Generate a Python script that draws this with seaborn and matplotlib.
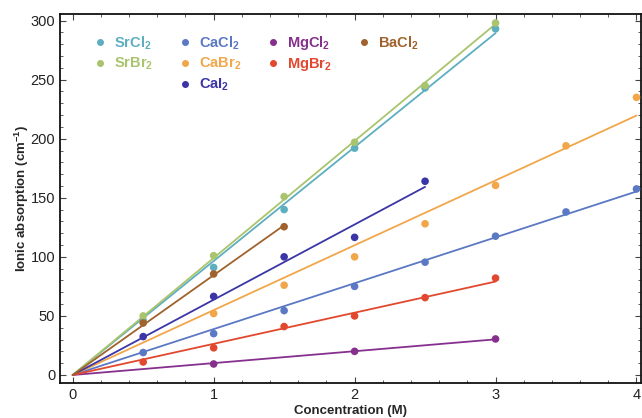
import numpy as np
import pandas as pd
import matplotlib.pyplot as plt
import seaborn as sns
from matplotlib.lines import Line2D
from matplotlib.ticker import MultipleLocator

# concentration grids (M)
conc_to_3 = [0.5, 1.0, 1.5, 2.0, 2.5, 3.0]
conc_to_4 = [0.5, 1.0, 1.5, 2.0, 2.5, 3.0, 3.5, 4.0]
conc_cabr2 = [1.0, 1.5, 2.0, 2.5, 3.0, 3.5, 4.0]
conc_cai2 = [0.5, 1.0, 1.5, 2.0, 2.5]
conc_bacl2 = [0.5, 1.0, 1.5]
conc_mgcl2 = [1.0, 2.0, 3.0]

# ionic absorption (cm^-1)
srcl2 = [46, 91, 140, 192, 243, 293]
srbr2 = [50, 101, 151, 197, 245, 298]
cacl2 = [19, 35, 54.5, 75, 95.5, 117.5, 138, 157.5]
cabr2 = [52, 76, 100, 128, 160.5, 194, 235]
cai2 = [32.5, 66.5, 100, 116.5, 164]
mgcl2 = [9.3, 20, 30.5]
mgbr2 = [11, 23, 41, 50, 65.5, 82]
bacl2 = [44, 85.5, 125.5]

series = [
    ('SrCl2', 'SrCl$_2$', conc_to_3, srcl2, '#5DAFC0'),
    ('SrBr2', 'SrBr$_2$', conc_to_3, srbr2, '#A9C46C'),
    ('CaCl2', 'CaCl$_2$', conc_to_4, cacl2, '#5B78C4'),
    ('CaBr2', 'CaBr$_2$', conc_cabr2, cabr2, '#F2A64A'),
    ('CaI2', 'CaI$_2$', conc_cai2, cai2, '#3B35A6'),
    ('MgCl2', 'MgCl$_2$', conc_mgcl2, mgcl2, '#86308E'),
    ('MgBr2', 'MgBr$_2$', conc_to_3, mgbr2, '#E2482E'),
    ('BaCl2', 'BaCl$_2$', conc_bacl2, bacl2, '#A0622C'),
]

rows = []
fit_rows = []
for name, lab, xs, ys, col in series:
    for x, y in zip(xs, ys):
        rows.append({'salt': name, 'conc': x, 'abs': y})
    # least-squares line through the origin
    xa, ya = np.array(xs), np.array(ys)
    slope = (xa * ya).sum() / (xa * xa).sum()
    for x in (0.0, xa.max()):
        fit_rows.append({'salt': name, 'conc': x, 'abs': slope * x})
df = pd.DataFrame(rows)
fits = pd.DataFrame(fit_rows)
palette = {name: col for name, lab, xs, ys, col in series}
order = [s[0] for s in series]

sns.set_style('ticks')
plt.rcParams['font.family'] = ['Liberation Sans', 'DejaVu Sans']
plt.rcParams['mathtext.fontset'] = 'custom'
plt.rcParams['mathtext.rm'] = 'Liberation Sans:bold'
plt.rcParams['mathtext.it'] = 'Liberation Sans:bold'
plt.rcParams['mathtext.bf'] = 'Liberation Sans:bold'

fig = plt.figure(figsize=(6.42, 4.18), dpi=100)
ax = fig.add_axes([0.0935, 0.0837, 0.9045, 0.884])

sns.lineplot(data=fits, x='conc', y='abs', hue='salt', hue_order=order,
             palette=palette, lw=1.3, legend=False, ax=ax)
sns.scatterplot(data=df, x='conc', y='abs', hue='salt', hue_order=order,
                palette=palette, s=30, edgecolor='none', legend=False,
                ax=ax, zorder=3)

ax.set_xlim(-0.09, 4.03)
ax.set_ylim(-6.8, 306)
ax.xaxis.set_major_locator(MultipleLocator(1))
ax.xaxis.set_minor_locator(MultipleLocator(0.2))
ax.yaxis.set_major_locator(MultipleLocator(50))
ax.yaxis.set_minor_locator(MultipleLocator(10))
ax.tick_params(which='both', direction='in', top=True, right=True,
               colors='#444444', labelcolor='#222222', labelsize=10.5)
ax.tick_params(which='major', length=4.5, width=0.8)
ax.tick_params(which='minor', length=2.5, width=0.6)
for sp in ax.spines.values():
    sp.set_color('#111111')
    sp.set_linewidth(1.3)

ax.set_xlabel('Concentration (M)', fontsize=9.5, fontweight='bold', labelpad=2)
ax.set_ylabel('Ionic absorption (cm$^{-1}$)', fontsize=9.5, fontweight='bold', labelpad=0)

# legend in four columns, padded with blank entries
def handle(col):
    return Line2D([], [], ls='none', marker='o', ms=4, color=col)

blank = Line2D([], [], ls='none')
lut = {name: (lab, col) for name, lab, xs, ys, col in series}
layout = ['SrCl2', 'SrBr2', None, 'CaCl2', 'CaBr2', 'CaI2',
          'MgCl2', 'MgBr2', None, 'BaCl2', None, None]
handles, labs, cols = [], [], []
for key in layout:
    if key is None:
        handles.append(blank)
        labs.append('')
        cols.append('white')
    else:
        handles.append(handle(lut[key][1]))
        labs.append(lut[key][0])
        cols.append(lut[key][1])
leg = ax.legend(handles, labs, ncol=4, loc='upper left', bbox_to_anchor=(0.048, 0.96),
                frameon=False, fontsize=10.5, handlelength=0.8, handletextpad=0.6,
                columnspacing=1.75, labelspacing=0.3, borderaxespad=0)
for txt, c in zip(leg.get_texts(), cols):
    txt.set_color(c)
    txt.set_fontweight('bold')

fig.savefig('out.png', dpi=100)
